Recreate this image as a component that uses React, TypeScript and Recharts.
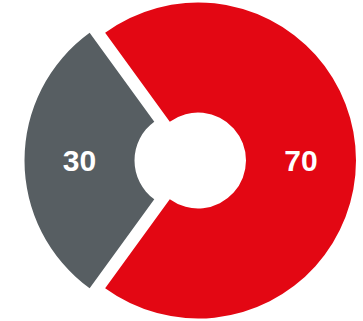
import React from 'react';
import { Cell, Pie, PieChart } from 'recharts';

const categories = ['Red', 'Grey'];
const values = [70, 30];
const colors = ['#E30713', '#575E62'];

const data = categories.map((name, i) => ({ name, value: values[i] }));

const RADIAN = Math.PI / 180;

const makeLabel = (show: number) => (props: any) => {
  const { cx, cy, midAngle, innerRadius, outerRadius, index, value } = props;
  if (index !== show) return null;
  const r = (innerRadius + outerRadius) / 2;
  const x = cx + r * Math.cos(-midAngle * RADIAN);
  const y = cy + r * Math.sin(-midAngle * RADIAN);
  return (
    <text
      x={x}
      y={y}
      fill="#fff"
      textAnchor="middle"
      dominantBaseline="central"
      fontFamily="'Liberation Sans', Arial, sans-serif"
      fontWeight="bold"
      fontSize={30}
    >
      {value}
    </text>
  );
};

const App: React.FC = () => {
  return (
    <div style={{ position: 'absolute', left: 0, top: 0 }}>
      <PieChart width={363} height={321} margin={{ top: 0, right: 0, bottom: 0, left: 0 }}>
        {/* main slice */}
        <Pie
          data={data}
          dataKey="value"
          cx={198}
          cy={160.5}
          innerRadius={48}
          outerRadius={158}
          startAngle={-126}
          endAngle={234}
          stroke="none"
          labelLine={false}
          label={makeLabel(0)}
          isAnimationActive={false}
        >
          {data.map((d, i) => (
            <Cell key={d.name} fill={i === 0 ? colors[0] : 'transparent'} />
          ))}
        </Pie>
        {/* exploded slice, shifted left */}
        <Pie
          data={data}
          dataKey="value"
          cx={182.5}
          cy={160.5}
          innerRadius={48}
          outerRadius={158}
          startAngle={-126}
          endAngle={234}
          stroke="none"
          labelLine={false}
          label={makeLabel(1)}
          isAnimationActive={false}
        >
          {data.map((d, i) => (
            <Cell key={d.name} fill={i === 1 ? colors[1] : 'transparent'} />
          ))}
        </Pie>
      </PieChart>
    </div>
  );
};

export default App;
